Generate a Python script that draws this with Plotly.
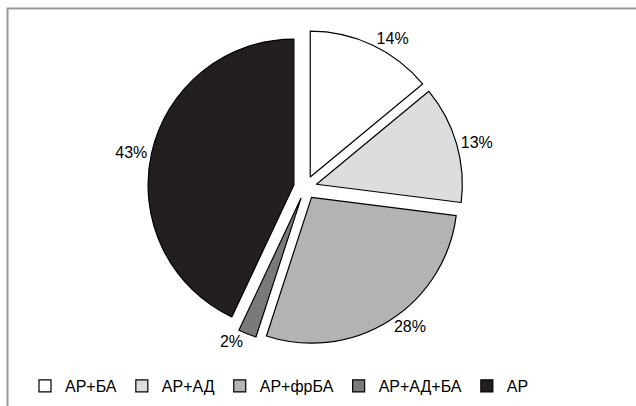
import plotly.graph_objects as go

categories = ["АР+БА", "АР+АД", "АР+фрБА", "АР+АД+БА", "АР"]
values = [14, 13, 28, 2, 43]
colors = ["#ffffff", "#dcdddf", "#b2b3b5", "#7a7a7c", "#231f20"]

W, H = 636, 406

fig = go.Figure(go.Pie(
    labels=categories,
    values=values,
    sort=False,
    direction="clockwise",
    rotation=0,
    pull=[0.08] * len(values),
    marker=dict(colors=colors, line=dict(color="#000000", width=1.2)),
    texttemplate="%{value}%",
    textposition="outside",
    textfont=dict(family="Liberation Sans, Arial", size=16, color="#000000"),
    domain=dict(x=[0.08, 0.88], y=[1 - 345 / H, 1 - 30 / H]),
    showlegend=True,
))

fig.update_layout(
    width=W, height=H,
    margin=dict(l=0, r=0, t=0, b=0, autoexpand=False),
    paper_bgcolor="#ffffff",
    plot_bgcolor="#ffffff",
    font=dict(family="Liberation Sans, Arial", size=16, color="#000000"),
    legend=dict(
        orientation="h",
        x=25 / W, xanchor="left",
        y=1 - 386 / H, yanchor="middle",
        font=dict(size=16),
        itemwidth=30,
        traceorder="normal",
        bgcolor="rgba(0,0,0,0)",
    ),
    shapes=[dict(
        type="rect", xref="paper", yref="paper",
        x0=7.5 / W, y0=-0.05, x1=1.05, y1=1 - 8.5 / H,
        line=dict(color="#999999", width=2),
        fillcolor="rgba(0,0,0,0)",
    )],
)

fig.write_html("out.html")
